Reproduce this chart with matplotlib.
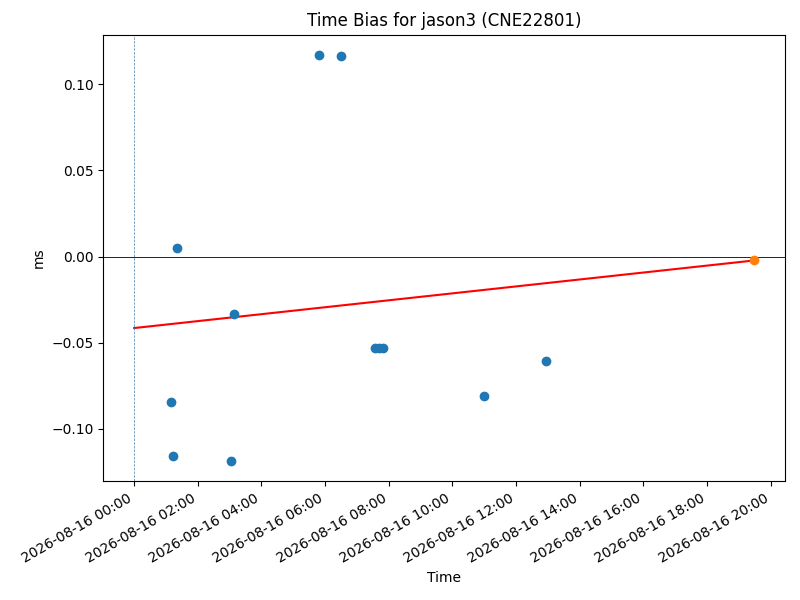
import numpy as np
import matplotlib
matplotlib.use("Agg")
import matplotlib.pyplot as plt
import matplotlib.dates as mdates
from datetime import datetime, timedelta

start = datetime(2026, 8, 16, 0, 0)

# observation times (hours after start) and time bias (ms)
obs_hours = [1.15, 1.21, 1.34, 3.04, 3.13, 5.80, 6.49, 7.56, 7.68, 7.81, 10.98, 12.93]
obs_bias = [-0.0843, -0.1157, 0.0052, -0.1186, -0.0331, 0.1169, 0.1163,
            -0.0529, -0.0529, -0.0529, -0.0808, -0.0605]

# fitted trend: start and end values
fit_hours = [0.0, 19.47]
fit_bias = [-0.0415, -0.0023]

# predicted point
pred_hours = [19.47]
pred_bias = [-0.0023]


def to_dates(hours):
    return [start + timedelta(hours=h) for h in hours]


fig, ax = plt.subplots(figsize=(8, 6), dpi=100)

ax.scatter(to_dates(obs_hours), obs_bias, color="C0", zorder=3)
ax.plot(to_dates(fit_hours), fit_bias, color="red")
ax.scatter(to_dates(pred_hours), pred_bias, color="C1", zorder=3)

ax.axhline(0, color="black", linewidth=0.6)
ax.axvline(start, color="#4a7fa8", linestyle="--", linewidth=0.5)

ax.xaxis.set_major_locator(mdates.HourLocator(byhour=range(0, 24, 2)))
ax.xaxis.set_major_formatter(mdates.DateFormatter("%Y-%m-%d %H:%M"))
fig.autofmt_xdate()

ax.set_title("Time Bias for jason3 (CNE22801)")
ax.set_xlabel("Time")
ax.set_ylabel("ms")

fig.subplots_adjust(left=0.129, right=0.981, top=0.942, bottom=0.198)
fig.savefig("out.png")
